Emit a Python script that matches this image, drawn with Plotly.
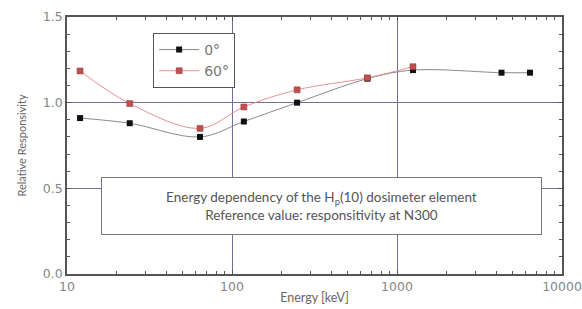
import plotly.graph_objects as go

energy_0 = [12, 24, 64, 118, 248, 662, 1250, 4300, 6400]
resp_0 = [0.91, 0.88, 0.80, 0.89, 1.00, 1.14, 1.19, 1.175, 1.175]
energy_60 = [12, 24, 64, 118, 248, 662, 1250]
resp_60 = [1.185, 0.995, 0.85, 0.975, 1.075, 1.145, 1.21]
x_ticks = [10, 100, 1000, 10000]
x_labels = ["10", "100", "1000", "10000"]
y_ticks = [0.0, 0.5, 1.0, 1.5]
y_labels = ["0.0", "0.5", "1.0", "1.5"]
x_minor = [m * 10 ** e for e in (1, 2, 3) for m in range(2, 10)]
y_minor = [i / 10 for i in range(0, 16)]

fig = go.Figure()
fig.add_trace(go.Scatter(
    x=energy_0, y=resp_0, name="0°", mode="lines+markers",
    line=dict(color="#8a8a8a", width=1, shape="spline", smoothing=1.0),
    marker=dict(symbol="square", size=6, color="#111111"),
))
fig.add_trace(go.Scatter(
    x=energy_60, y=resp_60, name="60°", mode="lines+markers",
    line=dict(color="#e89090", width=1, shape="spline", smoothing=1.0),
    marker=dict(symbol="square", size=6, color="#c05050", line=dict(color="#8a3a3a", width=0.5)),
))
# carrier for the minor-tick overlay axes
fig.add_trace(go.Scatter(x=[], y=[], xaxis="x2", yaxis="y2", showlegend=False, hoverinfo="skip"))

axis_font = dict(family="DejaVu Sans, sans-serif", size=12.5, color="#858585")
common = dict(
    tickfont=axis_font, ticks="inside", ticklen=4, tickcolor="#555555",
    showline=True, linecolor="#555555", linewidth=1.5, mirror="allticks",
    showgrid=True, gridcolor="#6f6f99", gridwidth=1, zeroline=False,
    automargin=False,
)
minor_common = dict(
    ticks="inside", ticklen=3, tickcolor="#555555", tickwidth=1,
    showticklabels=False, showgrid=False, zeroline=False, showline=False,
    mirror="allticks", automargin=False,
)
fig.update_layout(
    width=582, height=309,
    margin=dict(l=67, r=20, t=17, b=35),
    paper_bgcolor="white", plot_bgcolor="white",
    font=dict(family="Lato, Open Sans, sans-serif", color="#666666"),
    showlegend=True,
    legend=dict(
        x=0.174, y=0.938, xanchor="left", yanchor="top",
        bgcolor="white", bordercolor="#555555", borderwidth=1,
        font=dict(family="DejaVu Sans, sans-serif", size=14, color="#777777"),
        itemwidth=40, tracegroupgap=0,
    ),
    xaxis=dict(
        type="log", range=[1, 4],
        tickmode="array", tickvals=x_ticks, ticktext=x_labels,
        title=dict(text="Energy [keV]", font=dict(family="Lato, sans-serif", size=12.5, color="#666666"), standoff=0),
        **common,
    ),
    yaxis=dict(
        range=[0, 1.5],
        tickmode="array", tickvals=y_ticks, ticktext=y_labels,
        title=dict(text="Relative Responsivity", font=dict(family="Lato, sans-serif", size=11, color="#666666"), standoff=14),
        **common,
    ),
    xaxis2=dict(type="log", range=[1, 4], overlaying="x", side="bottom",
                tickmode="array", tickvals=x_minor, **minor_common),
    yaxis2=dict(range=[0, 1.5], overlaying="y", side="left",
                tickmode="array", tickvals=y_minor, **minor_common),
)

fig.add_annotation(
    x=0.515, y=0.265, xref="paper", yref="paper", yanchor="middle",
    text="Energy dependency of the H<sub>p</sub>(10) dosimeter element<br>Reference value: responsitivity at N300",
    showarrow=False, align="center",
    font=dict(size=13.5, color="#555555", family="Lato, sans-serif"),
    bgcolor="white", bordercolor="#777777", borderwidth=1,
    width=437, height=54,
)

fig.write_html(
    "out.html",
    config={"displayModeBar": False},
    post_script="document.body.style.margin='0';document.body.style.overflow='hidden';",
)
